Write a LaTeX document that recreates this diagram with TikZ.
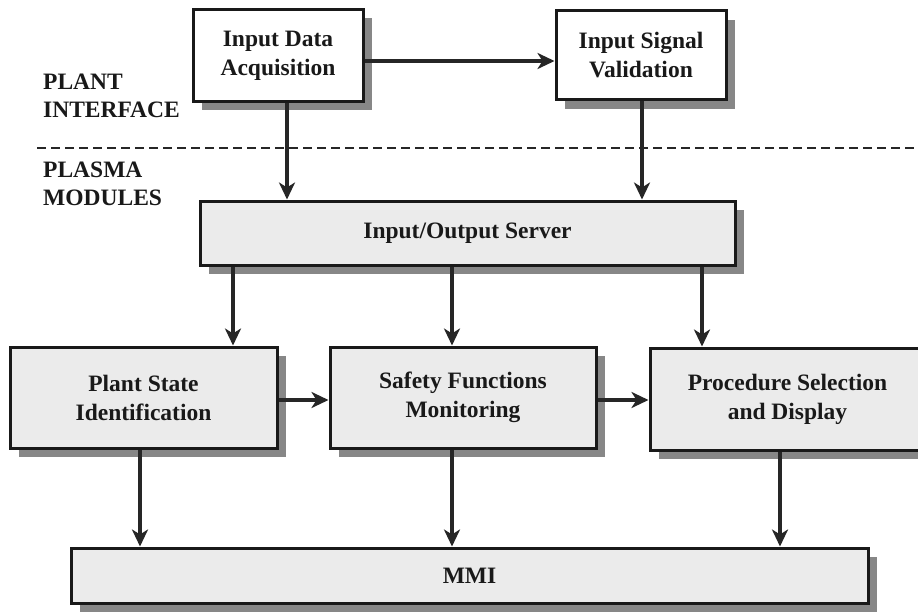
\documentclass[tikz,border=0pt]{standalone}
\usepackage{fontspec}
\setmainfont{Liberation Serif}
\usetikzlibrary{arrows.meta,shadows}
\begin{document}
\begin{tikzpicture}[x=1pt,y=-1pt,
  box/.style={draw=black!90, line width=3pt, inner sep=0pt, align=center,
    font=\fontsize{23.5}{29}\selectfont\bfseries, text=black!90,
    drop shadow={shadow xshift=9pt, shadow yshift=-9pt, fill=black!47, opacity=1}},
  topbox/.style={box, fill=white},
  modbox/.style={box, fill=black!8},
  link/.style={line width=3.4pt, draw=black!85,
    -{Stealth[length=17pt,width=16pt,inset=5pt]}},
  layer/.style={font=\fontsize{23.5}{28}\selectfont\bfseries, text=black!90,
    align=left, anchor=west, inner sep=0pt},
  divider/.style={line width=2.4pt, draw=black!85, dash pattern=on 9pt off 5pt}]

\useasboundingbox[fill=white] (0,0) rectangle (918,615);

% plant interface layer
\node[topbox, minimum width=170pt, minimum height=92pt] (ida) at (278,55.5)
  {Input Data\\Acquisition};
\node[topbox, minimum width=170pt, minimum height=89pt] (isv) at (641,55.5)
  {Input Signal\\Validation};

% boundary between the layers
\coordinate (dl) at (37,148);
\coordinate (dr) at (918,148);
\draw[divider] (dl) -- (dr);
\node[layer] (plant) at (43,96) {PLANT\\INTERFACE};
\node[layer] (plasma) at (43,184) {PLASMA\\MODULES};

% plasma modules layer
\node[modbox, minimum width=535pt, minimum height=64pt] (io) at (467.5,233)
  {Input/Output Server};
\node[modbox, minimum width=267pt, minimum height=101pt] (psi) at (143.5,397.5)
  {Plant State\\Identification};
\node[modbox, minimum width=266pt, minimum height=101pt] (sfm) at (463,397.5)
  {Safety Functions\\Monitoring};
\node[modbox, minimum width=275pt, minimum height=102pt] (psd) at (787.5,399)
  {Procedure Selection\\and Display};
\node[modbox, minimum width=797pt, minimum height=55pt] (mmi) at (469.5,575.5)
  {MMI};

% connector positions
\coordinate (xa) at (287,0);
\coordinate (xb) at (642,0);
\coordinate (xc) at (233,0);
\coordinate (xd) at (452,0);
\coordinate (xe) at (702,0);
\coordinate (xf) at (140,0);
\coordinate (xg) at (780,0);
\coordinate (ya) at (0,61);
\coordinate (yb) at (0,400);

% data flow
\draw[link] (ida.east |- ya) -- (isv.west |- ya);
\draw[link] (ida.south -| xa) -- (io.north -| xa);
\draw[link] (isv.south -| xb) -- (io.north -| xb);
\draw[link] (io.south -| xc) -- (psi.north -| xc);
\draw[link] (io.south -| xd) -- (sfm.north -| xd);
\draw[link] (io.south -| xe) -- (psd.north -| xe);
\draw[link] (psi.east |- yb) -- (sfm.west |- yb);
\draw[link] (sfm.east |- yb) -- (psd.west |- yb);
\draw[link] (psi.south -| xf) -- (mmi.north -| xf);
\draw[link] (sfm.south -| xd) -- (mmi.north -| xd);
\draw[link] (psd.south -| xg) -- (mmi.north -| xg);
\end{tikzpicture}
\end{document}
